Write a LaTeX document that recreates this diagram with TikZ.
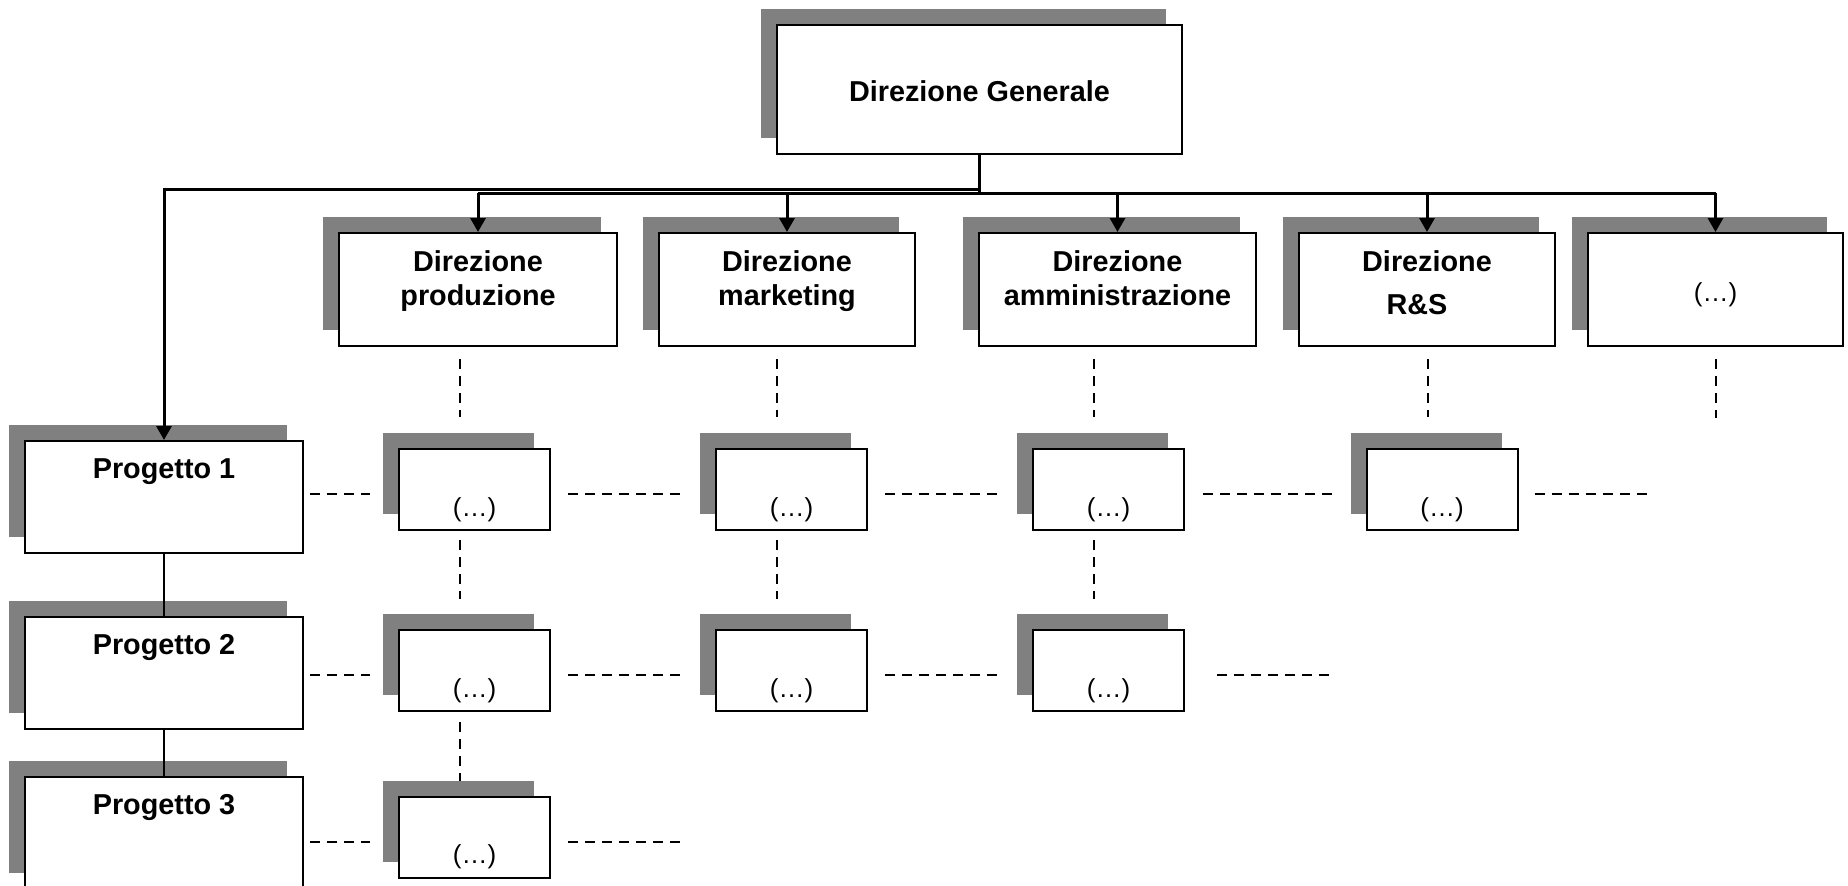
\documentclass[tikz,border=0pt]{standalone}
\usepackage{fontspec}
\setmainfont{Liberation Sans}
\usetikzlibrary{arrows.meta,shadows}
\definecolor{shadowgray}{HTML}{808080}
\begin{document}
\begin{tikzpicture}[x=1pt,y=-1pt,
  box/.style={draw, fill=white, line width=2pt, inner sep=0pt,
    drop shadow={shadow xshift=-16pt, shadow yshift=16pt, fill=shadowgray, opacity=1}},
  big/.style={box, minimum width=278pt, minimum height=113pt},
  small/.style={box, minimum width=151pt, minimum height=81pt},
  bt/.style={font=\fontsize{28.8}{34}\selectfont\bfseries, inner sep=0pt, anchor=base},
  et/.style={font=\fontsize{26}{30}\selectfont, inner sep=0pt, anchor=base},
  tree/.style={line width=3pt},
  arr/.style={-{Triangle[length=14pt,width=15pt]}},
  link/.style={line width=2pt},
  dsh/.style={line width=2pt, dash pattern=on 10pt off 7pt}
]
\path[use as bounding box, fill=white] (0,0) rectangle (1848,886);

% boxes
\node[box, minimum width=405pt, minimum height=129pt] (DG) at (979.5,89.5) {};
\node[big] (D1) at (478,289.5) {};
\node[big, minimum width=256pt] (D2) at (787,289.5) {};
\node[big, minimum width=277pt] (D3) at (1117.5,289.5) {};
\node[big, minimum width=256pt] (D4) at (1427,289.5) {};
\node[big, minimum width=255pt] (D5) at (1715.5,289.5) {};
\node[big, minimum height=112pt] (P1) at (164,497) {};
\node[big, minimum height=112pt] (P2) at (164,673) {};
\node[big, minimum height=112pt] (P3) at (164,833) {};
\node[small] (c11) at (474.5,489.5) {};
\node[small] (c12) at (791.5,489.5) {};
\node[small] (c13) at (1108.5,489.5) {};
\node[small] (c14) at (1442,489.5) {};
\node[small] (c21) at (474.5,670.5) {};
\node[small] (c22) at (791.5,670.5) {};
\node[small] (c23) at (1108.5,670.5) {};
\node[small] (c31) at (474.5,837) {};

% texts
\node[bt] (tDG) at ([yshift=-77pt]DG.north) {Direzione Generale};
\node[bt] (tD1a) at ([yshift=-39pt]D1.north) {Direzione};
\node[bt] (tD1b) at ([yshift=-73pt]D1.north) {produzione};
\node[bt] (tD2a) at ([yshift=-39pt]D2.north) {Direzione};
\node[bt] (tD2b) at ([yshift=-73pt]D2.north) {marketing};
\node[bt] (tD3a) at ([yshift=-39pt]D3.north) {Direzione};
\node[bt] (tD3b) at ([yshift=-73pt]D3.north) {amministrazione};
\node[bt] (tD4a) at ([yshift=-39pt]D4.north) {Direzione};
\node[bt] (tD4b) at ([xshift=-10pt,yshift=-82pt]D4.north) {R\&S};
\node[et] (tD5) at ([yshift=-69pt]D5.north) {(…)};
\node[bt] (tP1) at ([yshift=-38pt]P1.north) {Progetto 1};
\node[bt] (tP2) at ([yshift=-38pt]P2.north) {Progetto 2};
\node[bt] (tP3) at ([yshift=-38pt]P3.north) {Progetto 3};
\foreach \c in {c11,c12,c13,c14,c21,c22,c23,c31}
  \node[et] (t\c) at ([yshift=-68pt]\c.north) {(…)};

% tree connectors
\coordinate (busR) at (0,193);
\coordinate (busL) at (0,189);
\draw[tree] (DG.south) -- (DG.south |- busR);
\draw[tree] (D1.north |- busR) -- (D5.north |- busR);
\foreach \n in {D1,D2,D3,D4,D5}
  \draw[tree,arr] (\n.north |- busR) -- (\n.north);
\draw[tree,arr] (DG.south |- busL) -| (P1.north);
\draw[link] (P1.south) -- (P2.north);
\draw[link] (P2.south) -- (P3.north);

% dashed verticals
\coordinate (k1) at ([xshift=-14.5pt]c11.center);
\coordinate (k2) at ([xshift=-14.5pt]c12.center);
\coordinate (k3) at ([xshift=-14.5pt]c13.center);
\coordinate (k4) at ([xshift=-14.5pt]c14.center);
\coordinate (e5) at (1715.5,418);
\draw[dsh, shorten <=12pt, shorten >=31pt] (k1 |- D1.south) -- (k1 |- c11.north);
\draw[dsh, shorten <=12pt, shorten >=31pt] (k2 |- D2.south) -- (k2 |- c12.north);
\draw[dsh, shorten <=12pt, shorten >=31pt] (k3 |- D3.south) -- (k3 |- c13.north);
\draw[dsh, shorten <=12pt, shorten >=31pt] (k4 |- D4.south) -- (k4 |- c14.north);
\draw[dsh, shorten <=12pt] (D5.south) -- (e5);
\draw[dsh, shorten <=9pt, shorten >=30pt] (k1 |- c11.south) -- (k1 |- c21.north);
\draw[dsh, shorten <=9pt, shorten >=30pt] (k2 |- c12.south) -- (k2 |- c22.north);
\draw[dsh, shorten <=9pt, shorten >=30pt] (k3 |- c13.south) -- (k3 |- c23.north);
\draw[dsh, shorten <=10pt, shorten >=15pt] (k1 |- c21.south) -- (k1 |- c31.north);

% dashed horizontals
\coordinate (h1) at (0,494);
\coordinate (h2) at (0,675);
\coordinate (h3) at (0,842);
\coordinate (f1) at (1649,494);
\coordinate (f2) at (1332,675);
\coordinate (f3) at (681,842);
\draw[dsh, shorten <=6pt, shorten >=28pt] (P1.east |- h1) -- (c11.west |- h1);
\draw[dsh, shorten <=17pt, shorten >=35pt] (c11.east |- h1) -- (c12.west |- h1);
\draw[dsh, shorten <=17pt, shorten >=35pt] (c12.east |- h1) -- (c13.west |- h1);
\draw[dsh, shorten <=18pt, shorten >=30pt] (c13.east |- h1) -- (c14.west |- h1);
\draw[dsh, shorten <=16pt] (c14.east |- h1) -- (f1);
\draw[dsh, shorten <=6pt, shorten >=28pt] (P2.east |- h2) -- (c21.west |- h2);
\draw[dsh, shorten <=17pt, shorten >=35pt] (c21.east |- h2) -- (c22.west |- h2);
\draw[dsh, shorten <=17pt, shorten >=35pt] (c22.east |- h2) -- (c23.west |- h2);
\draw[dsh, shorten <=32pt] (c23.east |- h2) -- (f2);
\draw[dsh, shorten <=6pt, shorten >=28pt] (P3.east |- h3) -- (c31.west |- h3);
\draw[dsh, shorten <=17pt] (c31.east |- h3) -- (f3);
\end{tikzpicture}
\end{document}
